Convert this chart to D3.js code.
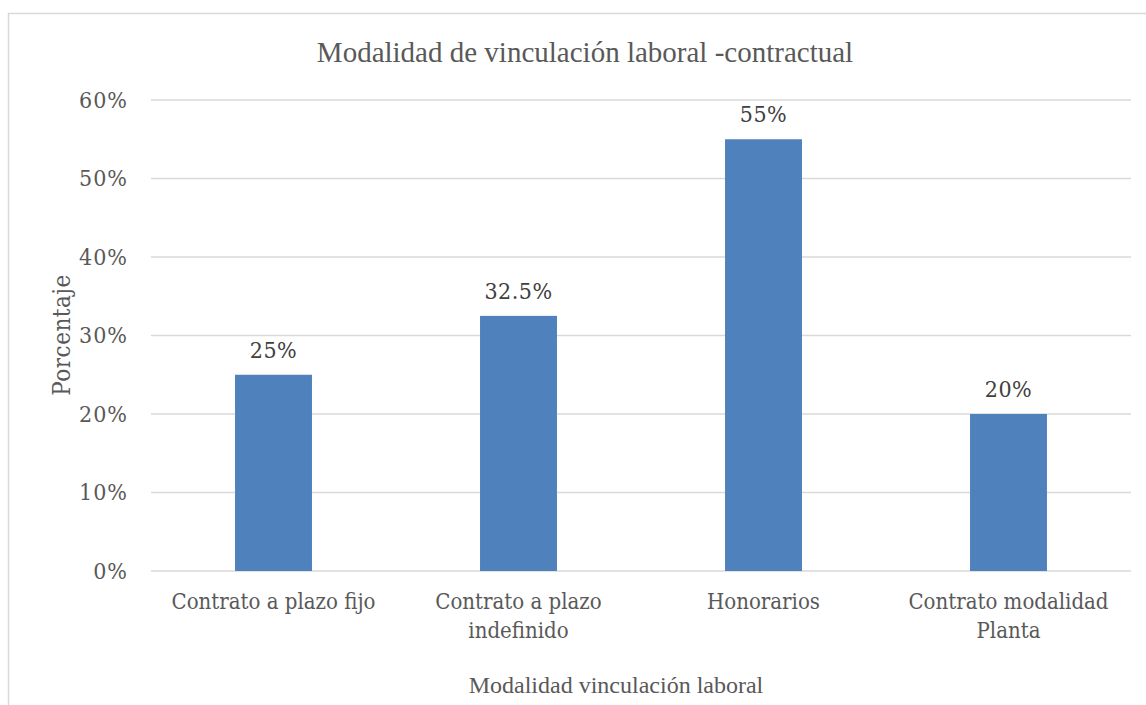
<!DOCTYPE html>
<html>
<head>
<meta charset="utf-8">
<script src="https://cdn.jsdelivr.net/npm/d3@7"></script>
<style>
  body { margin: 0; background: #fff; }
  svg { display: block; }
  .serif2 { font-family: "DejaVu Serif Condensed", "DejaVu Serif", serif; font-stretch: condensed; }
</style>
</head>
<body>
<svg width="1146" height="705"></svg>
<script>
const categories = [
  ['Contrato a plazo fijo'],
  ['Contrato a plazo', 'indefinido'],
  ['Honorarios'],
  ['Contrato modalidad', 'Planta']
];
const values = [0.25, 0.325, 0.55, 0.20];
const valueLabels = ['25%', '32.5%', '55%', '20%'];
const yTicks = [0, 0.1, 0.2, 0.3, 0.4, 0.5, 0.6];

const svg = d3.select('svg');
const textColor = '#595959';
const gridColor = '#d9d9d9';
const barColor = '#4f81bd';

// frame
svg.append('rect')
  .attr('x', 8.5).attr('y', 13.5)
  .attr('width', 1160).attr('height', 720)
  .attr('fill', 'none')
  .attr('stroke', gridColor)
  .attr('stroke-width', 1.5);

const plotLeft = 151, plotRight = 1131, plotTop = 100, plotBottom = 571;

const x = d3.scaleBand()
  .domain(d3.range(categories.length))
  .range([plotLeft, plotRight])
  .paddingInner(0.686)
  .paddingOuter(0.343);

const y = d3.scaleLinear().domain([0, 0.6]).range([plotBottom, plotTop]);

// gridlines
svg.append('g')
  .selectAll('line')
  .data(yTicks)
  .join('line')
  .attr('x1', plotLeft).attr('x2', plotRight)
  .attr('y1', d => y(d)).attr('y2', d => y(d))
  .attr('stroke', gridColor)
  .attr('stroke-width', 1.5);

// y axis labels
const yAxis = svg.append('g')
  .attr('transform', `translate(${plotLeft - 23},0)`)
  .call(d3.axisLeft(y).tickValues(yTicks).tickFormat(d3.format('.0%')).tickSize(0).tickPadding(0));
yAxis.select('.domain').remove();
yAxis.selectAll('text')
  .attr('class', 'serif2')
  .attr('font-size', 23)
  .attr('letter-spacing', 1)
  .attr('fill', textColor);

// bars
svg.append('g')
  .selectAll('rect')
  .data(values)
  .join('rect')
  .attr('x', (d, i) => x(i))
  .attr('y', d => y(d))
  .attr('width', x.bandwidth())
  .attr('height', d => y(0) - y(d))
  .attr('fill', barColor);

// value labels
svg.append('g')
  .selectAll('text')
  .data(values)
  .join('text')
  .attr('class', 'serif2')
  .attr('x', (d, i) => x(i) + x.bandwidth() / 2)
  .attr('y', d => y(d) - 17)
  .attr('text-anchor', 'middle')
  .attr('font-size', 23)
  .attr('letter-spacing', 0.5)
  .attr('fill', '#404040')
  .text((d, i) => valueLabels[i]);

// category labels
const cat = svg.append('g')
  .selectAll('text')
  .data(categories)
  .join('text')
  .attr('class', 'serif2')
  .attr('text-anchor', 'middle')
  .attr('font-size', 22)
  .attr('fill', textColor)
  .attr('transform', (d, i) => `translate(${x(i) + x.bandwidth() / 2},609)`);
cat.selectAll('tspan')
  .data(d => d)
  .join('tspan')
  .attr('x', 0)
  .attr('dy', (d, j) => j === 0 ? 0 : 29)
  .text(d => d);

// title
svg.append('text')
  .attr('x', 585).attr('y', 62)
  .attr('text-anchor', 'middle')
  .attr('font-family', '"Liberation Serif", serif')
  .attr('font-size', 29)
  .attr('fill', textColor)
  .text('Modalidad de vinculación laboral -contractual');

// y title
svg.append('text')
  .attr('class', 'serif2')
  .attr('transform', 'translate(70,335) rotate(-90)')
  .attr('text-anchor', 'middle')
  .attr('font-size', 24)
  .attr('letter-spacing', 0.5)
  .attr('fill', textColor)
  .text('Porcentaje');

// x title
svg.append('text')
  .attr('x', 616).attr('y', 693)
  .attr('text-anchor', 'middle')
  .attr('font-family', '"Liberation Serif", serif')
  .attr('font-size', 24)
  .attr('fill', textColor)
  .text('Modalidad vinculación laboral');
</script>
</body>
</html>
